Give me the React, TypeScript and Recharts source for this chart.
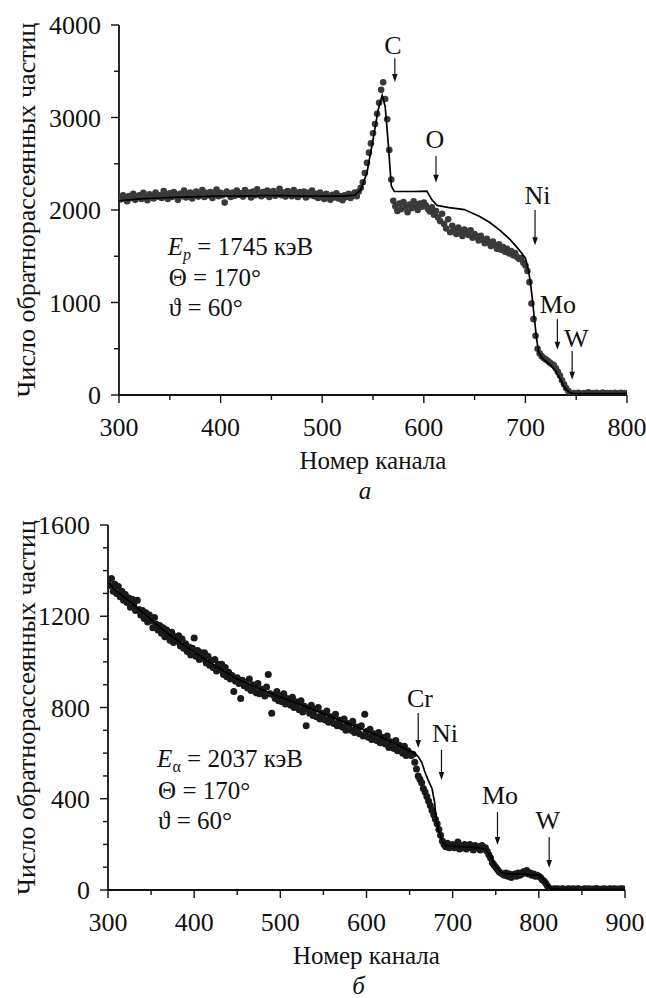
import React from 'react';
import { ScatterChart, Scatter, XAxis, YAxis, ReferenceLine, ReferenceDot } from 'recharts';

const SERIF = 'Liberation Serif';
const INK = '#111111';
const FONT_SIZE = 26;
const NOTE_SIZE = 25;

// ---------- Spectrum a: protons, 1745 keV ----------
const protonFirstChannel = 300;
const protonChannelStep = 2;
const protonCounts = [
  // 300-338
  2140, 2115, 2160, 2125, 2095, 2150, 2130, 2175, 2110, 2145, 2160, 2120, 2185, 2140, 2105, 2170, 2150, 2125, 2190, 2145,
  // 340-378
  2160, 2130, 2205, 2155, 2120, 2180, 2140, 2195, 2165, 2110, 2175, 2150, 2210, 2135, 2170, 2190, 2125, 2160, 2200, 2145,
  // 380-418
  2170, 2215, 2140, 2185, 2160, 2195, 2130, 2175, 2220, 2150, 2185, 2160, 2080, 2200, 2170, 2140, 2190, 2155, 2210, 2165,
  // 420-458
  2180, 2145, 2215, 2170, 2190, 2135, 2200, 2160, 2225, 2175, 2150, 2195, 2165, 2210, 2140, 2185, 2205, 2155, 2175, 2230,
  // 460-498
  2160, 2190, 2145, 2205, 2175, 2150, 2215, 2180, 2140, 2195, 2165, 2200, 2135, 2185, 2160, 2210, 2150, 2175, 2130, 2190,
  // 500-534
  2155, 2120, 2175, 2145, 2110, 2165, 2135, 2180, 2125, 2150, 2105, 2160, 2140, 2175, 2130, 2165, 2190, 2150,
  // 536-568: carbon surface peak
  2200, 2240, 2300, 2400, 2510, 2620, 2720, 2830, 2930, 3040, 3160, 3300, 3380, 3200, 2980, 2650, 2330,
  // 570-600
  2100, 2040, 1990, 2070, 2010, 2085, 2030, 1975, 2060, 2020, 2095, 2045, 2000, 2070, 2035, 2080,
  // 602-640
  2050, 2010, 1985, 2030, 1950, 1990, 1920, 1880, 1960, 1850, 1800, 1900, 1760, 1830, 1790, 1740, 1810, 1770, 1720, 1790,
  // 642-700
  1760, 1730, 1780, 1700, 1740, 1710, 1670, 1720, 1680, 1640, 1690, 1650, 1610, 1660, 1620, 1580, 1630, 1570, 1600, 1550,
  1580, 1530, 1555, 1510, 1535, 1490, 1470, 1480, 1430, 1400,
  // 702-746
  1340, 1220, 990, 820, 640, 500, 450, 420, 400, 385, 370, 350, 335, 320, 290, 250, 210, 160, 115, 75, 45, 25, 15,
  // 748-800
  20, 12, 25, 18, 10, 22, 15, 28, 12, 20, 16, 24, 10, 18, 26, 14, 20, 12, 22, 17, 25, 13, 19, 23, 11, 20, 16,
];
const protonFitChannels = [
  300, 320, 340, 360, 380, 400, 420, 440, 460, 480, 500, 520, 532, 538, 544, 550, 555, 559, 562, 565, 568, 571,
  590, 603, 608, 613, 625, 640, 655, 665, 675, 685, 693, 700, 703, 705, 707, 709, 711, 713, 716, 720, 725, 730,
  734, 737, 741, 745, 750, 775, 800,
];
const protonFitCounts = [
  2100, 2120, 2130, 2140, 2145, 2150, 2150, 2155, 2155, 2150, 2150, 2150, 2160, 2220, 2400, 2760, 3080, 3240, 3120,
  2720, 2260, 2200, 2200, 2205, 2110, 2050, 2025, 2005, 1930, 1865, 1780, 1680, 1580, 1480, 1350, 1210, 1020, 810,
  610, 470, 405, 365, 320, 255, 180, 110, 50, 20, 15, 15, 15,
];
const protonXTicks = [300, 400, 500, 600, 700, 800];
const protonXMinor = [350, 450, 550, 650, 750];
const protonYTicks = [0, 1000, 2000, 3000, 4000];
const protonYMinor = [500, 1500, 2500, 3500];
const protonMarkers = [
  { name: 'C', ch: 571.5, from: 3640, to: 3385, labelCh: 569.5, labelN: 3785 },
  { name: 'O', ch: 612, from: 2585, to: 2295, labelCh: 611, labelN: 2770 },
  { name: 'Ni', ch: 709.5, from: 2000, to: 1620, labelCh: 712, labelN: 2165 },
  { name: 'Mo', ch: 731.5, from: 820, to: 490, labelCh: 732, labelN: 985 },
  { name: 'W', ch: 746, from: 475, to: 165, labelCh: 750, labelN: 620 },
];

// ---------- Spectrum б: alpha particles, 2037 keV ----------
const alphaFirstChannel = 300;
const alphaChannelStep = 2;
const alphaCounts = [
  1360, 1335, 1365, 1310, 1340, 1300, 1330, 1285, 1310, 1270, // 300-318
  1295, 1260, 1280, 1240, 1275, 1250, 1225, 1270, 1230, 1205, // 320-338
  1225, 1190, 1215, 1175, 1205, 1180, 1150, 1195, 1165, 1140, // 340-358
  1160, 1125, 1150, 1110, 1140, 1120, 1095, 1130, 1085, 1110, // 360-378
  1090, 1115, 1070, 1100, 1060, 1080, 1045, 1065, 1030, 1060, // 380-398
  1105, 1025, 1050, 1010, 1040, 1015, 1040, 995, 1025, 985, // 400-418
  1005, 975, 1010, 960, 990, 965, 990, 945, 975, 935, // 420-438
  955, 925, 940, 870, 915, 930, 905, 840, 920, 895, // 440-458
  910, 885, 925, 875, 900, 890, 865, 905, 860, 880, // 460-478
  875, 850, 890, 945, 860, 775, 855, 840, 870, 830, // 480-498
  850, 825, 860, 815, 840, 835, 810, 845, 800, 825, // 500-518
  815, 790, 830, 780, 805, 720, 795, 775, 810, 765, // 520-538
  790, 760, 800, 750, 775, 770, 745, 785, 735, 760, // 540-558
  755, 730, 770, 720, 745, 740, 715, 750, 700, 730, // 560-578
  725, 700, 740, 690, 715, 710, 685, 720, 675, 770, // 580-598
  695, 670, 705, 660, 685, 680, 655, 690, 645, 670, // 600-618
  660, 640, 675, 625, 650, 645, 620, 655, 610, 635, // 620-638
  620, 600, 630, 590, 610, 600, 590, 595, 560, 530, // 640-658
  500, 485, 470, 445, 430, 410, 390, 370, 350, 330, // 660-678
  310, 290, 265, 240, 215, 200, 190, 205, 185, 195, // 680-698
  200, 185, 190, 210, 180, 195, 185, 200, 180, 190, // 700-718
  200, 185, 175, 195, 185, 190, 175, 195, 180, 185, // 720-738
  170, 155, 140, 120, 110, 100, 90, 80, 75, 70, // 740-758
  65, 75, 60, 70, 55, 65, 70, 60, 75, 65, // 760-778
  70, 80, 75, 85, 70, 75, 65, 70, 60, 65, // 780-798
  60, 55, 45, 40, 30, 18, 8, 4, 3, 5, // 800-818
  3, 5, 2, 4, 6, 3, 2, 5, 4, 3, 6, 2, 4, 5, 3, 2, 4, 6, 3, 5, // 820-858
  2, 4, 3, 5, 6, 2, 3, 4, 5, 3, 2, 6, 4, 3, 5, 2, 4, 3, 5, 4, // 860-898
  3, // 900
];
const alphaFitChannels = [
  300, 315, 330, 350, 370, 390, 410, 430, 450, 470, 490, 510, 530, 550, 570, 590, 610, 630, 645, 655, 660, 664,
  668, 672, 676, 679, 681, 684, 688, 692, 700, 720, 738, 744, 750, 756, 762, 780, 800, 806, 810, 814, 830, 900,
];
const alphaFitCounts = [
  1345, 1295, 1250, 1185, 1122, 1068, 1018, 970, 925, 891, 860, 832, 803, 773, 743, 713, 682, 648, 618, 602, 585,
  560, 515, 478, 445, 385, 305, 255, 212, 195, 192, 188, 180, 148, 105, 80, 70, 70, 65, 48, 22, 5, 2, 2,
];
const alphaXTicks = [300, 400, 500, 600, 700, 800, 900];
const alphaXMinor = [350, 450, 550, 650, 750, 850];
const alphaYTicks = [0, 400, 800, 1200, 1600];
const alphaYMinor = [100, 200, 300, 500, 600, 700, 900, 1000, 1100, 1300, 1400, 1500];
const alphaMarkers = [
  { name: 'Cr', ch: 660, from: 776, to: 623, labelCh: 662, labelN: 842 },
  { name: 'Ni', ch: 687, from: 614, to: 482, labelCh: 691, labelN: 688 },
  { name: 'Mo', ch: 752, from: 342, to: 197, labelCh: 755, labelN: 416 },
  { name: 'W', ch: 812, from: 232, to: 96, labelCh: 810.5, labelN: 307 },
];

const xTitleText = 'Номер канала';
const yTitleText = 'Число обратнорассеянных частиц';
const protonEnergyText = ' = 1745 кэВ';
const alphaEnergyText = ' = 2037 кэВ';
const scatterAngleText = 'Θ = 170°';
const tiltAngleText = 'ϑ = 60°';

type Pt = { ch: number; n: number };
const toSeries = (first: number, step: number, counts: number[]): Pt[] =>
  counts.map((n, i) => ({ ch: first + i * step, n }));
const zipSeries = (chs: number[], counts: number[]): Pt[] => chs.map((ch, i) => ({ ch, n: counts[i] }));

const AXIS_LINE = { stroke: INK, strokeWidth: 1.8 };
const textStyle = { fontFamily: SERIF, fontSize: FONT_SIZE, fill: INK, style: { fontFamily: SERIF } };
const noteStyle = { ...textStyle, fontSize: NOTE_SIZE };

type Side = 'bottom' | 'top' | 'left' | 'right';
const makeTick = (side: Side, majors: number[], labelled: boolean) => (props: any) => {
  const { x, y, payload } = props;
  const v = payload.value;
  const major = majors.indexOf(v) >= 0;
  const len = major ? 8 : 5;
  const horizontal = side === 'bottom' || side === 'top';
  return (
    <g>
      {horizontal ? (
        <line x1={x} y1={y} x2={x} y2={y + len} stroke={INK} strokeWidth={1.4} />
      ) : (
        <line x1={x} y1={y} x2={x - len} y2={y} stroke={INK} strokeWidth={1.4} />
      )}
      {labelled && major && side === 'bottom' && (
        <text x={x} y={y + 41} textAnchor="middle" {...textStyle}>
          {v}
        </text>
      )}
      {labelled && major && side === 'left' && (
        <text x={x - 18} y={y + 9} textAnchor="end" {...textStyle}>
          {v}
        </text>
      )}
    </g>
  );
};

const xTitle = (panel: string) => (p: any) => {
  const vb = p.viewBox;
  const cx = vb.x + vb.width / 2;
  return (
    <g>
      <text x={cx} y={vb.y + 74} textAnchor="middle" {...noteStyle}>
        {xTitleText}
      </text>
      <text x={cx - 8} y={vb.y + 104} textAnchor="middle" {...noteStyle} fontStyle="italic">
        {panel}
      </text>
    </g>
  );
};

const yTitle = (p: any) => {
  const vb = p.viewBox;
  const cy = vb.y + vb.height / 2;
  return (
    <text transform={`translate(26, ${cy}) rotate(-90)`} textAnchor="middle" dy="0.35em" {...textStyle}>
      {yTitleText}
    </text>
  );
};

const dotShape = (r: number, fill: string) => (p: any) => <circle cx={p.cx} cy={p.cy} r={r} fill={fill} />;
const noShape = () => <g />;

const arrowShape = (p: any) => {
  const { x1, y1, x2, y2 } = p;
  const head = 8;
  return (
    <g>
      <line x1={x1} y1={y1} x2={x2} y2={y2 - head + 1} stroke={INK} strokeWidth={1.2} />
      <polygon points={`${x2 - 2.8},${y2 - head} ${x2 + 2.8},${y2 - head} ${x2},${y2}`} fill={INK} />
    </g>
  );
};

const markerLabel = (name: string) => (p: any) => (
  <text x={p.cx} y={p.cy + 9} textAnchor="middle" {...textStyle}>
    {name}
  </text>
);

type Marker = { name: string; ch: number; from: number; to: number; labelCh: number; labelN: number };
const renderMarkers = (markers: Marker[]) =>
  markers.flatMap((m) => [
    <ReferenceLine
      key={`a-${m.name}`}
      xAxisId="b"
      yAxisId="l"
      segment={[{ x: m.ch, y: m.from }, { x: m.ch, y: m.to }]}
      shape={arrowShape}
      ifOverflow="visible"
    />,
    <ReferenceDot
      key={`t-${m.name}`}
      xAxisId="b"
      yAxisId="l"
      x={m.labelCh}
      y={m.labelN}
      r={0}
      shape={markerLabel(m.name)}
      ifOverflow="visible"
    />,
  ]);

const parameterBlock = (energySub: string, energyText: string, subItalic: boolean, gap1: number, gap2: number) =>
  (p: any) => (
    <g>
      <text x={p.cx} y={p.cy} {...noteStyle}>
        <tspan fontStyle="italic">E</tspan>
        <tspan fontSize={16} dy={5} fontStyle={subItalic ? 'italic' : 'normal'}>
          {energySub}
        </tspan>
        <tspan dy={-5}>{energyText}</tspan>
      </text>
      <text x={p.cx + 1} y={p.cy + gap1} {...noteStyle}>
        {scatterAngleText}
      </text>
      <text x={p.cx + 1} y={p.cy + gap2} {...noteStyle}>
        {tiltAngleText}
      </text>
    </g>
  );

type PanelProps = {
  dots: Pt[];
  fit: Pt[];
  xDomain: [number, number];
  yDomain: [number, number];
  xMajor: number[];
  xMinor: number[];
  yMajor: number[];
  yMinor: number[];
  yAxisWidth: number;
  rightMargin: number;
  xAxisHeight: number;
  height: number;
  dotR: number;
  dotFill: string;
  panel: string;
  markers: Marker[];
  params: { ch: number; n: number; shape: (p: any) => React.ReactElement };
};

function Panel(props: PanelProps) {
  const xTicks = [...props.xMajor, ...props.xMinor].sort((a, b) => a - b);
  const yTicks = [...props.yMajor, ...props.yMinor].sort((a, b) => a - b);
  return (
    <ScatterChart
      width={646}
      height={props.height}
      margin={{ top: 25, right: props.rightMargin, bottom: 0, left: 0 }}
    >
      <XAxis
        xAxisId="b"
        orientation="bottom"
        type="number"
        dataKey="ch"
        domain={props.xDomain}
        allowDataOverflow
        ticks={xTicks}
        interval={0}
        height={props.xAxisHeight}
        tickSize={0}
        tickMargin={0}
        tickLine={false}
        axisLine={AXIS_LINE}
        tick={makeTick('bottom', props.xMajor, true)}
        label={xTitle(props.panel)}
      />
      <XAxis
        xAxisId="t"
        orientation="top"
        type="number"
        dataKey="ch"
        domain={props.xDomain}
        allowDataOverflow
        ticks={xTicks}
        interval={0}
        height={0}
        tickSize={0}
        tickMargin={0}
        tickLine={false}
        axisLine={AXIS_LINE}
        tick={makeTick('top', props.xMajor, false)}
      />
      <YAxis
        yAxisId="l"
        orientation="left"
        type="number"
        dataKey="n"
        domain={props.yDomain}
        allowDataOverflow
        ticks={yTicks}
        interval={0}
        width={props.yAxisWidth}
        tickSize={0}
        tickMargin={0}
        tickLine={false}
        axisLine={AXIS_LINE}
        tick={makeTick('left', props.yMajor, true)}
        label={yTitle}
      />
      <YAxis
        yAxisId="r"
        orientation="right"
        type="number"
        dataKey="n"
        domain={props.yDomain}
        allowDataOverflow
        ticks={yTicks}
        interval={0}
        width={0}
        tickSize={0}
        tickMargin={0}
        tickLine={false}
        axisLine={AXIS_LINE}
        tick={makeTick('right', props.yMajor, false)}
      />
      <Scatter
        xAxisId="b"
        yAxisId="l"
        data={props.dots}
        shape={dotShape(props.dotR, props.dotFill)}
        isAnimationActive={false}
      />
      <Scatter
        xAxisId="b"
        yAxisId="l"
        data={props.fit}
        line={{ stroke: '#000', strokeWidth: 1.7 }}
        lineType="joint"
        shape={noShape}
        isAnimationActive={false}
      />
      {renderMarkers(props.markers)}
      <ReferenceDot
        xAxisId="b"
        yAxisId="l"
        x={props.params.ch}
        y={props.params.n}
        r={0}
        shape={props.params.shape}
        ifOverflow="visible"
      />
    </ScatterChart>
  );
}

export default function App() {
  const protonDots = toSeries(protonFirstChannel, protonChannelStep, protonCounts);
  const protonFit = zipSeries(protonFitChannels, protonFitCounts);
  const alphaDots = toSeries(alphaFirstChannel, alphaChannelStep, alphaCounts);
  const alphaFit = zipSeries(alphaFitChannels, alphaFitCounts);
  return (
    <div style={{ position: 'absolute', left: 0, top: 0, width: 646, height: 998, background: '#fff' }}>
      <div style={{ position: 'absolute', left: 0, top: 0 }}>
        <Panel
          dots={protonDots}
          fit={protonFit}
          xDomain={[300, 800]}
          yDomain={[0, 4000]}
          xMajor={protonXTicks}
          xMinor={protonXMinor}
          yMajor={protonYTicks}
          yMinor={protonYMinor}
          yAxisWidth={119}
          rightMargin={19}
          xAxisHeight={115}
          height={510}
          dotR={3.3}
          dotFill="#3a3a3a"
          panel="а"
          markers={protonMarkers}
          params={{ ch: 348, n: 1513, shape: parameterBlock('p', protonEnergyText, true, 31, 61) }}
        />
      </div>
      <div style={{ position: 'absolute', left: 0, top: 500 }}>
        <Panel
          dots={alphaDots}
          fit={alphaFit}
          xDomain={[300, 900]}
          yDomain={[0, 1600]}
          xMajor={alphaXTicks}
          xMinor={alphaXMinor}
          yMajor={alphaYTicks}
          yMinor={alphaYMinor}
          yAxisWidth={108}
          rightMargin={21}
          xAxisHeight={108}
          height={498}
          dotR={3.5}
          dotFill="#1a1a1a"
          panel="б"
          markers={alphaMarkers}
          params={{ ch: 357, n: 539, shape: parameterBlock('α', alphaEnergyText, false, 32, 62) }}
        />
      </div>
    </div>
  );
}
